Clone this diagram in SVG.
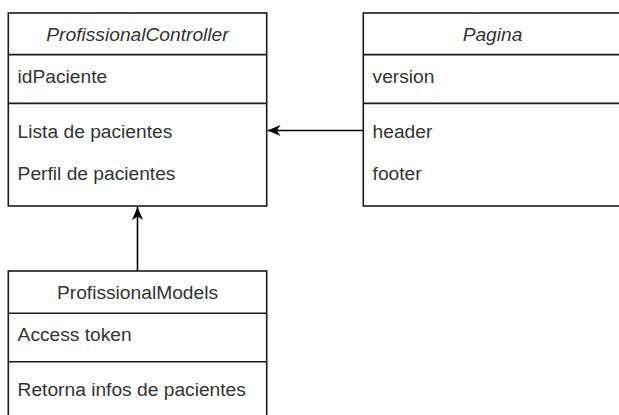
<svg xmlns="http://www.w3.org/2000/svg" width="619" height="415" viewBox="0 0 619 415">
<style>
.box{fill:#ffffff;stroke:#1a1a1a;stroke-width:1.6}
.sep{stroke:#1a1a1a;stroke-width:1.6;fill:none}
.t{font-family:"Liberation Sans",Arial,Helvetica,sans-serif;font-size:19.2px;fill:#333333}
.h{text-anchor:middle}
.i{font-style:italic}
.edge{stroke:#000000;stroke-width:1.6;fill:none}
</style>
<defs>
<marker id="arr" viewBox="0 0 14 12" refX="13" refY="6" markerWidth="14" markerHeight="12" markerUnits="userSpaceOnUse" orient="auto">
<path d="M13,6 L0,0.5 L3.5,6 L0,11.5 Z" fill="#000000"/>
</marker>
</defs>
<rect width="619" height="415" fill="#ffffff"/>
<g id="connectors">
<path class="edge" d="M363.3,130.5 L267.5,130.5" marker-end="url(#arr)"/>
<path class="edge" d="M137.5,271 L137.5,207" marker-end="url(#arr)"/>
</g>
<g id="ProfissionalController">
<rect class="box" x="8.3" y="13" width="258.4" height="193"/>
<line class="sep" x1="8.3" y1="54.6" x2="266.7" y2="54.6"/>
<line class="sep" x1="8.3" y1="103.4" x2="266.7" y2="103.4"/>
<text class="t h i" x="137.5" y="40.7">ProfissionalController</text>
<text class="t" x="17.6" y="82.5">idPaciente</text>
<text class="t" x="17.6" y="138">Lista de pacientes</text>
<text class="t" x="17.6" y="179.5">Perfil de pacientes</text>
</g>
<g id="Pagina">
<rect class="box" x="363.3" y="13" width="258.4" height="193"/>
<line class="sep" x1="363.3" y1="54.6" x2="621.7" y2="54.6"/>
<line class="sep" x1="363.3" y1="103.4" x2="621.7" y2="103.4"/>
<text class="t h i" x="492.5" y="40.7">Pagina</text>
<text class="t" x="372.6" y="82.5">version</text>
<text class="t" x="372.6" y="138">header</text>
<text class="t" x="372.6" y="179.5">footer</text>
</g>
<g id="ProfissionalModels">
<rect class="box" x="8.3" y="271" width="258.4" height="160"/>
<line class="sep" x1="8.3" y1="313.3" x2="266.7" y2="313.3"/>
<line class="sep" x1="8.3" y1="361.7" x2="266.7" y2="361.7"/>
<text class="t h" x="137.5" y="299.2">ProfissionalModels</text>
<text class="t" x="17.6" y="341">Access token</text>
<text class="t" x="17.6" y="396.3">Retorna infos de pacientes</text>
</g>
</svg>
